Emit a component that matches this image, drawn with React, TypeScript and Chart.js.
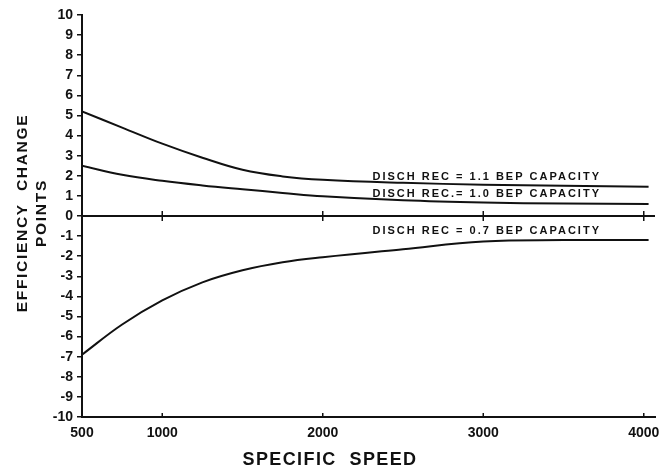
import React, { useEffect, useRef } from "react";
import { Chart, registerables } from "chart.js";

Chart.register(...registerables);

// ---- data ----
const speedTicks = [500, 1000, 2000, 3000, 4000];

const speed = [500, 750, 1000, 1250, 1500, 1750, 2000, 2500, 3000, 3500, 4030];
const eff11 = [5.2, 4.4, 3.6, 2.9, 2.3, 1.97, 1.8, 1.65, 1.56, 1.5, 1.45];
const eff10 = [2.5, 2.05, 1.75, 1.52, 1.33, 1.15, 0.98, 0.78, 0.67, 0.62, 0.6];
const eff07 = [-6.9, -5.4, -4.2, -3.3, -2.7, -2.3, -2.05, -1.65, -1.27, -1.2, -1.2];

const curveLabels = [
  "DISCH REC = 1.1 BEP CAPACITY",
  "DISCH REC.= 1.0 BEP CAPACITY",
  "DISCH REC = 0.7 BEP CAPACITY",
];
const labelSpeed = 2310;
const labelEff = [1.8, 0.95, -0.9];

const xTitle = "SPECIFIC  SPEED";
const yTitle = ["EFFICIENCY  CHANGE", "POINTS"];

const INK = "#111";
const FONT = "'Liberation Sans', Arial, sans-serif";

function pts(xs: number[], ys: number[]) {
  return xs.map((x, i) => ({ x, y: ys[i] }));
}

const decorPlugin = {
  id: "decor",
  afterDatasetsDraw(chart: any) {
    const { ctx, chartArea, scales } = chart;
    const xs = scales.x;
    const ys = scales.y;
    ctx.save();
    ctx.strokeStyle = INK;
    ctx.fillStyle = INK;
    // zero line
    const y0 = ys.getPixelForValue(0);
    ctx.lineWidth = 2;
    ctx.beginPath();
    ctx.moveTo(chartArea.left, y0);
    ctx.lineTo(chartArea.right, y0);
    ctx.stroke();
    // tick marks on zero line and bottom axis
    ctx.lineWidth = 1.5;
    [1000, 2000, 3000, 4000].forEach((v) => {
      const px = xs.getPixelForValue(v);
      ctx.beginPath();
      ctx.moveTo(px, y0 - 5);
      ctx.lineTo(px, y0 + 5);
      ctx.stroke();
      ctx.beginPath();
      ctx.moveTo(px, chartArea.bottom);
      ctx.lineTo(px, chartArea.bottom - 4);
      ctx.stroke();
    });
    // curve labels
    ctx.font = `bold 11px ${FONT}`;
    (ctx as any).letterSpacing = "2px";
    ctx.textAlign = "left";
    ctx.textBaseline = "alphabetic";
    curveLabels.forEach((t, i) => {
      ctx.fillText(t, xs.getPixelForValue(labelSpeed), ys.getPixelForValue(labelEff[i]));
    });
    // x title
    ctx.font = `bold 18px ${FONT}`;
    (ctx as any).letterSpacing = "1.4px";
    ctx.textAlign = "center";
    ctx.fillText(xTitle, 330, 465);
    // y title
    ctx.font = `bold 15.5px ${FONT}`;
    (ctx as any).letterSpacing = "1.7px";
    const cy = 213;
    [[27, yTitle[0]], [46, yTitle[1]]].forEach(([bx, t]) => {
      ctx.save();
      ctx.translate(bx as number, cy);
      ctx.rotate(-Math.PI / 2);
      ctx.textAlign = "center";
      ctx.fillText(t as string, 0, 0);
      ctx.restore();
    });
    ctx.restore();
  },
};

export default function App() {
  const ref = useRef<HTMLCanvasElement | null>(null);
  useEffect(() => {
    document.body.style.margin = "0";
    const ds = (data: any) => ({
      data,
      borderColor: INK,
      borderWidth: 2,
      pointRadius: 0,
      fill: false,
      tension: 0.4,
    });
    const chart = new Chart(ref.current as HTMLCanvasElement, {
      type: "line",
      data: {
        datasets: [ds(pts(speed, eff11)), ds(pts(speed, eff10)), ds(pts(speed, eff07))],
      },
      options: {
        animation: false,
        responsive: false,
        devicePixelRatio: 1,
        layout: { padding: { top: 15, right: 13, left: 0, bottom: 0 } },
        plugins: { legend: { display: false }, tooltip: { enabled: false } },
        scales: {
          x: {
            type: "linear",
            min: 500,
            max: 4070,
            afterBuildTicks: (s: any) => {
              s.ticks = speedTicks.map((v) => ({ value: v }));
            },
            afterFit: (s: any) => {
              s.height = 53;
            },
            ticks: {
              autoSkip: false,
              maxRotation: 0,
              color: INK,
              padding: 8,
              font: { family: FONT, size: 14, weight: "bold" },
              callback: (v: any) => String(v),
            },
            grid: { drawOnChartArea: false, drawTicks: false },
            border: { display: true, color: INK, width: 2 },
          },
          y: {
            min: -10,
            max: 10,
            afterFit: (s: any) => {
              s.width = 82;
            },
            ticks: {
              stepSize: 1,
              color: INK,
              padding: 4,
              font: { family: FONT, size: 14, weight: "bold" },
              callback: (v: any) => String(v),
            },
            grid: { drawOnChartArea: false, drawTicks: true, tickLength: 5, color: INK, lineWidth: 1.5 },
            border: { display: true, color: INK, width: 2 },
          },
        },
      },
      plugins: [decorPlugin],
    });
    return () => chart.destroy();
  }, []);
  return (
    <div style={{ width: 668, height: 470, background: "#fff" }}>
      <canvas ref={ref} width={668} height={470} style={{ display: "block" }} />
    </div>
  );
}
